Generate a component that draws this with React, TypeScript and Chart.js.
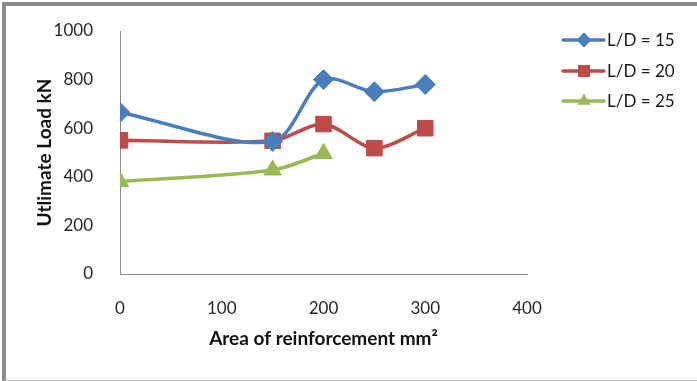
import React, { useEffect, useRef } from "react";
import { Chart, registerables } from "chart.js";

Chart.register(...registerables);

const areas = [0, 150, 200, 250, 300];
const loadLD15 = [665, 545, 800, 750, 780];
const loadLD20 = [550, 548, 617, 518, 600];
const loadLD25 = [380, 428, 496];
const seriesLabels = ["L/D = 15", "L/D = 20", "L/D = 25"];
const xTicks = [0, 100, 200, 300, 400];
const yTicks = [0, 200, 400, 600, 800, 1000];

const FONT = "Lato, 'Open Sans', sans-serif";
const colors = ["#4a7ebb", "#be4b48", "#98b954"];
const pointStyles = ["rectRot", "rect", "triangle"];
const pointRadii = [10, 11, 10];

const pairs = (ys: number[]) => ys.map((y, i) => ({ x: areas[i], y }));

// Marker shapes for the legend swatches
function drawMarker(ctx: CanvasRenderingContext2D, style: string, x: number, y: number, r: number) {
  ctx.beginPath();
  if (style === "rectRot") {
    ctx.moveTo(x, y - r);
    ctx.lineTo(x + r, y);
    ctx.lineTo(x, y + r);
    ctx.lineTo(x - r, y);
  } else if (style === "rect") {
    const h = r * 0.8;
    ctx.rect(x - h, y - h, h * 2, h * 2);
  } else {
    ctx.moveTo(x, y - r);
    ctx.lineTo(x + r * 0.87, y + r * 0.5);
    ctx.lineTo(x - r * 0.87, y + r * 0.5);
  }
  ctx.closePath();
  ctx.fill();
}

// Legend drawn to the right of the plot: line segment with marker, then label
const sideLegend = {
  id: "sideLegend",
  afterDraw(chart: any) {
    const { ctx } = chart;
    const x0 = 563;
    const rowY = [40, 71, 101];
    chart.data.datasets.forEach((ds: any, i: number) => {
      const y = rowY[i];
      ctx.save();
      ctx.strokeStyle = ds.borderColor;
      ctx.lineWidth = 3.5;
      ctx.lineCap = "round";
      ctx.beginPath();
      ctx.moveTo(x0, y);
      ctx.lineTo(x0 + 41, y);
      ctx.stroke();
      ctx.fillStyle = ds.backgroundColor;
      drawMarker(ctx, ds.pointStyle, x0 + 21, y, 7.5);
      ctx.fillStyle = "#1a1a1a";
      ctx.font = `17px ${FONT}`;
      ctx.textBaseline = "middle";
      ctx.textAlign = "left";
      ctx.fillText(ds.label, x0 + 44, y + 1);
      ctx.restore();
    });
  },
};

export default function App() {
  const ref = useRef<HTMLCanvasElement>(null);

  useEffect(() => {
    document.body.style.margin = "0";
    const ctx = ref.current!.getContext("2d")!;
    const allSeries = [loadLD15, loadLD20, loadLD25];
    const chart = new Chart(ctx, {
      type: "line",
      data: {
        datasets: allSeries.map((ys, i) => ({
          label: seriesLabels[i],
          data: pairs(ys),
          borderColor: colors[i],
          backgroundColor: colors[i],
          borderWidth: 3.5,
          pointStyle: pointStyles[i] as any,
          pointRadius: pointRadii[i],
          pointBorderWidth: 1,
          tension: 0.3,
          fill: false,
        })),
      },
      options: {
        animation: false,
        responsive: false,
        devicePixelRatio: 1,
        layout: { padding: { left: 0, top: 31, right: 170, bottom: 0 } },
        plugins: { legend: { display: false }, tooltip: { enabled: false } },
        scales: {
          x: {
            type: "linear",
            min: 0,
            max: 400,
            afterBuildTicks: (s: any) => {
              s.ticks = xTicks.map((v) => ({ value: v }));
            },
            afterFit: (s: any) => {
              s.height = 107;
            },
            grid: { display: false },
            border: { display: true, color: "#8c8c8c", width: 1 },
            ticks: {
              padding: 16,
              color: "#262626",
              font: { family: FONT, size: 17 },
              callback: (v: any) => String(v),
            },
            title: {
              display: true,
              text: "Area of reinforcement mm²",
              color: "#111",
              font: { family: FONT, size: 19, weight: "bold" },
              padding: { top: 0, bottom: 31 },
            },
          },
          y: {
            min: 0,
            max: 1000,
            afterBuildTicks: (s: any) => {
              s.ticks = yTicks.map((v) => ({ value: v }));
            },
            afterFit: (s: any) => {
              s.width = 120;
            },
            grid: { display: false },
            border: { display: true, color: "#8c8c8c", width: 1 },
            ticks: {
              padding: 19,
              color: "#262626",
              font: { family: FONT, size: 17 },
              callback: (v: any) => String(v),
            },
            title: {
              display: true,
              text: "Utlimate Load kN",
              color: "#111",
              font: { family: FONT, size: 19, weight: "bold" },
              padding: { top: 33, bottom: 0 },
            },
          },
        },
      },
      plugins: [sideLegend],
    });
    return () => chart.destroy();
  }, []);

  return (
    <div style={{ position: "relative", width: 697, height: 381, background: "#fff", overflow: "hidden" }}>
      <div
        style={{
          position: "absolute",
          left: 2,
          top: 2,
          width: 720,
          height: 374,
          borderLeft: "4px solid #8c8c8c",
          borderTop: "4px solid #8c8c8c",
          borderBottom: "2px solid #c4c4c4",
        }}
      />
      <canvas ref={ref} width={697} height={381} style={{ position: "absolute", left: 0, top: 0 }} />
    </div>
  );
}
